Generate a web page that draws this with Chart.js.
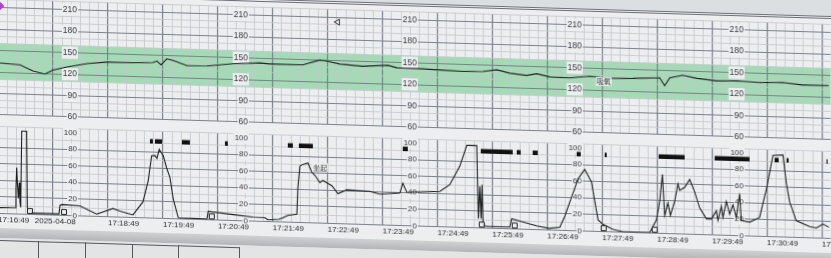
<!DOCTYPE html>
<html><head><meta charset="utf-8">
<script src="https://cdn.jsdelivr.net/npm/chart.js@4.4.1/dist/chart.umd.min.js"></script>
<style>
html,body{margin:0;padding:0;width:831px;height:258px;overflow:hidden;background:#dcdfe2;}
#sheet{position:absolute;left:0;top:0;width:831px;height:300px;transform:skewY(1.72deg);transform-origin:0 0;}
#paper{position:absolute;left:0;top:-9px;width:831px;height:238px;background:#eceef0;}
#fhrBox{position:absolute;left:0;top:-9px;width:831px;height:130px;border-top:3px double #6c6f75;box-sizing:border-box;}
#tocoBox{position:absolute;left:0;top:122px;width:831px;height:114px;}
#strip{position:absolute;left:0;top:228px;width:831px;height:10px;background:linear-gradient(#cfd1d3,#b3b5b8);}
#base{position:absolute;left:0;top:238px;width:831px;height:60px;background:#e2e4e6;}
.cell{position:absolute;top:240px;height:40px;border-left:1.5px solid #55585c;border-top:1.5px solid #55585c;}
#dot{position:absolute;left:-3px;top:3px;width:6px;height:6px;background:#b23fd0;transform:rotate(45deg);}
canvas{display:block}
</style></head>
<body>
<div id="sheet">
  <div id="paper"></div>
  <div id="strip"></div>
  <div id="base"></div>
  <div class="cell" style="left:-2px;width:40px"></div>
  <div class="cell" style="left:38px;width:47px"></div>
  <div class="cell" style="left:85px;width:47px"></div>
  <div class="cell" style="left:132px;width:46px"></div>
  <div class="cell" style="left:178px;width:60px;border-right:1.5px solid #55585c"></div>
  <div id="fhrBox"><canvas id="fhr" width="831" height="127"></canvas></div>
  <div id="tocoBox"><canvas id="toco" width="831" height="114"></canvas></div>
</div>
<div id="dot"></div>
<script>
// ---- data (x in seconds after 17:16:49) ----
const FHR_T = [2.1, 23.9, 38.1, 51.2, 59.9, 75.2, 97.1, 118.9, 147.3, 169.1, 173.5, 177.9, 184.4, 191, 206.3, 228.1, 256.5, 286, 296.9, 332.9, 351.5, 359.1, 373.3, 398.5, 425.7, 435.6, 460.7, 485.8, 507.6, 529.5, 544.8, 558.9, 577.5, 588.4, 602.6, 624.5, 646.3, 668.2, 693.3, 722.8, 728.2, 733.7, 747.9, 763.1, 785, 806.8, 831.9, 857.1, 878.9, 907.3];
const FHR_V = [132.7, 131, 122.8, 119, 125, 130, 135.4, 138.5, 138.6, 139.6, 142, 137, 145.5, 143.6, 136.8, 137.3, 141.4, 143.7, 142.7, 142.9, 150.3, 149, 145.4, 143.4, 145.8, 142.6, 142.3, 141.3, 140.4, 141.1, 144, 139.9, 137.4, 140.2, 136.4, 135.9, 138.9, 136.8, 137.7, 139.7, 128.9, 140, 144.2, 140.5, 137.7, 138.6, 137.3, 138.3, 135.6, 135.9];

const TOCO_T = [2.1, 18.5, 19.5, 20.3, 21.2, 22.1, 23.1, 23.9, 24.7, 25.8, 31.2, 31.9, 33.2, 38.1, 66.5, 67.6, 69.8, 89.4, 107.7, 125.5, 133.1, 147.3, 158.2, 164, 167.7, 171.3, 173.5, 176, 180.4, 184.1, 187.7, 191.3, 196.8, 228.1, 229.5, 256.8, 278.3, 291.4, 294.7, 306.7, 311.1, 316.5, 326.4, 327.5, 329.7, 332.9, 338.4, 342.8, 346, 351.5, 354.8, 364.6, 371.2, 381, 406.1, 417, 438.9, 442.1, 446.5, 463.9, 482.5, 493.4, 504.4, 512, 522.9, 524.6, 526.2, 527.6, 528.7, 529.8, 533.8, 558.9, 561.1, 573.2, 588.4, 601.5, 613.6, 619, 626.3, 633.6, 640.8, 644.5, 648.2, 651.8, 655.4, 660.8, 671.8, 682.4, 711.8, 719.1, 722.8, 725.7, 728.2, 731.8, 734.4, 739.1, 742.7, 744.6, 750.1, 755.5, 761, 766.4, 773.8, 779.2, 784.7, 786.4, 790.1, 791.9, 795.6, 799.2, 802.8, 806.5, 810.1, 811.9, 821, 831.9, 839.3, 846.5, 857.4, 861.1, 864.7, 872, 886.5, 893.9, 901.1, 907.6];
const TOCO_V = [7, 7.5, 30, 56, 35, 19, 38, 14, 8, 100, 100, 8, 6, 1.5, 1.5, 12, 13, 12, 2.7, 10, 7.2, 3, 19, 45, 75, 75.5, 72, 83, 75.6, 60.8, 49.6, 23.6, 1.3, 0.8, 10, 7, 4.7, 4.4, 2, 2.8, 4.9, 8, 9.7, 42, 68, 70, 72, 61, 57.5, 48.8, 51.5, 45.5, 36, 41, 40, 37, 39, 51, 40, 41.6, 42.5, 51, 73.7, 99, 99, 11, 50, 11, 52, 3.5, 2, 2, 12, 8.6, 4.5, 1.8, 3.5, 16.8, 39.8, 62.7, 74.3, 66.8, 59.3, 36.6, 13.9, 8.5, 3, 0.5, 0.5, 15.8, 38.6, 71, 21.7, 36.8, 21.7, 39, 60, 52.5, 56.3, 66, 51, 32, 19, 19, 29, 17.6, 34.8, 21.5, 40.7, 25.6, 36.9, 21.7, 50.5, 18.3, 16.7, 22.6, 57, 98, 99, 65, 42.5, 20, 13.5, 12, 17, 13.3];

const MARK_START = [165.9, 171.3, 200.8, 247.8, 316.5, 328.6, 442.1, 527.3, 566.6, 584, 632.1, 662.7, 721.7, 782.8, 848.3, 861.4, 905];
const MARK_END   = [169.1, 179, 209.5, 251, 322, 343.9, 447.6, 562.2, 570.9, 589.5, 636.5, 664.9, 750.1, 821, 852.7, 863.6, 906.2];
const MARK_LEVEL = 92.5;

const RESET_T = [34.8, 72, 233.5, 528.4, 564.4, 661.6, 717.3];
const RESET_LEVEL = 4;

const FLAG_T = [371];
const FLAG_V = [204];

const NORMAL_RANGE = [110, 160];
const FHR_RANGE = [60, 222];
const TOCO_RANGE = [0, 104.5];
const X_RANGE = [2.07, 909.5];

const TICK_SECONDS = [0, 40, 120, 180, 240, 300, 360, 420, 480, 540, 600, 660, 720, 780, 840, 900];
const TICK_LABELS = ['17:16:49', '2025-04-08', '17:18:49', '17:19:49', '17:20:49', '17:21:49', '17:22:49', '17:23:49', '17:24:49', '17:25:49', '17:26:49', '17:27:49', '17:28:49', '17:29:49', '17:30:49', '17:31:49'];

const LABEL_COLUMNS = [86.2, 272.9, 457.4, 637.6, 814.5];
const FHR_NOTES = [{t: 654, v: 132, text: '吸氧'}];
const TOCO_NOTES = [{t: 344, v: 67, text: '坐起'}];

// ---- styling ----
const FONT = "'Liberation Sans', Arial, sans-serif";
const MAJOR = '#7b808c', MINOR = '#c3c7cc', BG = '#eceef0';

function pts(ts, vs) { return ts.map((t, i) => ({x: t, y: vs[i]})); }
function markData() {
  const d = [];
  MARK_START.forEach((s, i) => { d.push({x: s, y: MARK_LEVEL}, {x: MARK_END[i], y: MARK_LEVEL}, {x: MARK_END[i] + 0.1, y: null}); });
  return d;
}
function gridX(showLabels) {
  return {
    type: 'linear', position: 'bottom', min: X_RANGE[0], max: X_RANGE[1],
    grid: {drawTicks: false, color: c => (c.tick && c.tick.value % 60 === 0) ? MAJOR : MINOR,
           lineWidth: c => (c.tick && c.tick.value % 60 === 0) ? 1.2 : 0.8},
    border: {display: false},
    afterBuildTicks: s => { if (showLabels && s.ticks.length && s.ticks[0].value > 0) s.ticks.unshift({value: 0}); },
    afterFit: s => { s.paddingLeft = 0; s.paddingRight = 0; },
    ticks: {stepSize: 10, includeBounds: false, display: showLabels, autoSkip: false, maxRotation: 0, minRotation: 0, align: 'start',
            padding: 2, z: 3, color: '#2b2d30', font: {family: FONT, size: 8},
            callback: v => { const i = TICK_SECONDS.indexOf(v); return i >= 0 ? TICK_LABELS[i] : ''; }}
  };
}
function gridY(range, step, major) {
  return {
    type: 'linear', position: 'left', min: range[0], max: range[1],
    grid: {drawTicks: false, color: c => (c.tick && c.tick.value % major === 0) ? MAJOR : MINOR,
           lineWidth: c => (c.tick && c.tick.value % major === 0) ? 1.1 : 0.8},
    border: {display: false},
    ticks: {display: false, stepSize: step, includeBounds: true}
  };
}
function labelAxes(range, step, size) {
  const axes = {};
  LABEL_COLUMNS.forEach((t, i) => {
    axes['yl' + i] = {
      type: 'linear', position: {x: t}, min: range[0], max: range[1],
      grid: {display: false, drawTicks: false}, border: {display: false},
      ticks: {stepSize: step, includeBounds: false, padding: 0, color: '#3a3c40',
              font: {family: FONT, size: size},
              showLabelBackdrop: true, backdropColor: BG, backdropPadding: 1}
    };
  });
  return axes;
}
const notesPlugin = {
  id: 'notes',
  afterDatasetsDraw(chart, args, opts) {
    const {ctx, scales: {x, y}} = chart;
    ctx.save();
    ctx.font = '7px "Noto Sans CJK SC", sans-serif';
    ctx.textBaseline = 'middle';
    (opts.items || []).forEach(n => {
      const px = x.getPixelForValue(n.t), py = y.getPixelForValue(n.v);
      const w = ctx.measureText(n.text).width;
      ctx.fillStyle = 'rgba(236,238,240,0.85)';
      ctx.fillRect(px - 1, py - 4.5, w + 2, 9);
      ctx.fillStyle = '#3a3c40';
      ctx.fillText(n.text, px, py);
    });
    ctx.restore();
  }
};

const common = {responsive: false, animation: false, devicePixelRatio: 1, events: []};

new Chart(document.getElementById('fhr'), {
  type: 'line',
  data: {datasets: [
    {data: pts(FHR_T, FHR_V), borderColor: '#1e2120', borderWidth: 1.1, pointRadius: 0, tension: 0, order: 1, fill: false},
    {data: pts(FLAG_T, FLAG_V), showLine: false, pointStyle: 'triangle', rotation: -90, pointRadius: 3.5,
     pointBorderColor: '#333', pointBackgroundColor: 'rgba(0,0,0,0)', pointBorderWidth: 1, order: 0},
    {data: [{x: X_RANGE[0], y: NORMAL_RANGE[1]}, {x: X_RANGE[1], y: NORMAL_RANGE[1]}], borderWidth: 0,
     pointRadius: 0, fill: {value: NORMAL_RANGE[0]}, backgroundColor: '#a3dbb4', order: 2}
  ]},
  options: Object.assign({}, common, {
    layout: {autoPadding: false, padding: {left: 0, right: 0, top: 0, bottom: 6}},
    plugins: {legend: {display: false}, tooltip: {enabled: false}, filler: {drawTime: 'beforeDraw'}, notes: {items: FHR_NOTES}},
    scales: Object.assign({x: gridX(false), y: gridY(FHR_RANGE, 10, 30)}, labelAxes(FHR_RANGE, 30, 8.5))
  }),
  plugins: [notesPlugin]
});

new Chart(document.getElementById('toco'), {
  type: 'line',
  data: {datasets: [
    {data: pts(TOCO_T, TOCO_V), borderColor: '#1e2120', borderWidth: 1.1, pointRadius: 0, tension: 0, order: 1},
    {data: markData(), borderColor: '#111', borderWidth: 4.5, borderCapStyle: 'butt', pointRadius: 0, spanGaps: false, order: 0},
    {data: RESET_T.map(t => ({x: t, y: RESET_LEVEL})), showLine: false, pointStyle: 'rect', pointRadius: 3.5,
     pointBorderColor: '#222', pointBackgroundColor: 'rgba(236,238,240,0.9)', pointBorderWidth: 1, order: 0}
  ]},
  options: Object.assign({}, common, {
    layout: {autoPadding: false, padding: {left: 0, right: 0, top: 0, bottom: 9}},
    plugins: {legend: {display: false}, tooltip: {enabled: false}, notes: {items: TOCO_NOTES}},
    scales: Object.assign({x: gridX(true), y: gridY(TOCO_RANGE, 10, 20)}, labelAxes(TOCO_RANGE, 20, 8))
  }),
  plugins: [notesPlugin]
});
</script>
</body></html>
